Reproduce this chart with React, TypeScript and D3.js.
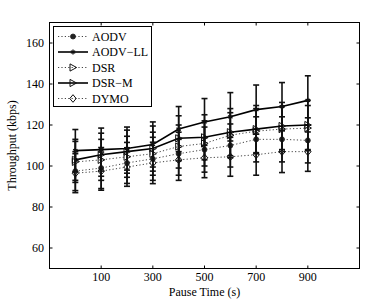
import * as d3 from "d3";

const pauseTimes = [0, 100, 200, 300, 400, 500, 600, 700, 800, 900];

const aodv = [97.5, 99, 101.5, 103.5, 106, 108, 110, 113, 113, 112.5];
const aodvErr = [9.5, 10, 10, 10.5, 10.5, 11, 10.5, 11, 11, 11];
const aodvLL = [107.5, 108, 108.5, 110.5, 118, 121.5, 124, 127.5, 129, 132];
const aodvLLErr = [10.3, 10.5, 10.5, 11, 11, 11.4, 11.8, 12, 11.7, 12];
const dsr = [102, 103, 104.5, 106, 109.5, 111, 115, 117, 118, 118.5];
const dsrErr = [10, 10, 10, 10.5, 10.5, 11, 11, 11, 11, 11];
const dsrM = [103, 105.5, 107, 108.5, 113.5, 114, 116.5, 118, 119.5, 120];
const dsrMErr = [10, 10.5, 10.5, 11, 11, 11, 11.5, 11.5, 11.5, 12];
const dymo = [96.5, 97.5, 99.5, 101.5, 103, 104, 104.5, 105.5, 107, 107];
const dymoErr = [9.5, 9.3, 9.4, 10.1, 10, 9.7, 9.5, 10, 10.2, 9.6];

const xTicks = [100, 300, 500, 700, 900];
const yTicks = [60, 80, 100, 120, 140, 160];

const seriesNames = ["AODV", "AODV\u2212LL", "DSR", "DSR\u2212M", "DYMO"];

const W = 382;
const H = 301;
const left = 49.5;
const right = 359.5;
const top = 22.5;
const bottom = 268.5;
const font = "'Liberation Serif', 'Times New Roman', 'DejaVu Serif', serif";

const series = [
  { name: seriesNames[0], values: aodv, err: aodvErr, dotted: true, marker: "circle" },
  { name: seriesNames[1], values: aodvLL, err: aodvLLErr, dotted: false, marker: "star" },
  { name: seriesNames[2], values: dsr, err: dsrErr, dotted: true, marker: "tri" },
  { name: seriesNames[3], values: dsrM, err: dsrMErr, dotted: false, marker: "tri" },
  { name: seriesNames[4], values: dymo, err: dymoErr, dotted: true, marker: "diamond" },
];

function Marker({ kind, x, y }: { kind: string; x: number; y: number }) {
  if (kind === "circle") {
    return <circle cx={x} cy={y} r={2.5} fill="#222" stroke="#222" strokeWidth={0.8} />;
  }
  if (kind === "star") {
    const p = d3.symbol().type(d3.symbolAsterisk).size(18)();
    return <path d={p || ""} transform={`translate(${x},${y})`} fill="none" stroke="#111" strokeWidth={1.3} />;
  }
  if (kind === "tri") {
    return (
      <path
        d="M-3,-3.6L3.6,0L-3,3.6Z"
        transform={`translate(${x},${y})`}
        fill="none"
        stroke="#111"
        strokeWidth={1}
      />
    );
  }
  return (
    <path
      d="M0,-3.8L3.2,0L0,3.8L-3.2,0Z"
      transform={`translate(${x},${y})`}
      fill="none"
      stroke="#111"
      strokeWidth={1}
    />
  );
}

export default function App() {
  const x = d3.scaleLinear().domain([-100, 1100]).range([left, right]);
  const y = d3.scaleLinear().domain([50, 170]).range([bottom, top]);

  const line = d3
    .line<number>()
    .x((_, i) => x(pauseTimes[i]))
    .y((d) => y(d));

  return (
    <svg
      width={W}
      height={H}
      style={{ position: "absolute", left: 0, top: 0, background: "#fff", fontFamily: font }}
    >
      <rect x={0} y={0} width={W} height={H} fill="#fff" />

      {series.map((s) => (
        <g key={s.name}>
          {s.values.map((v, i) => {
            const cx = x(pauseTimes[i]);
            const y1 = y(v + s.err[i]);
            const y2 = y(v - s.err[i]);
            return (
              <g key={i} stroke="#111" strokeWidth={1.6}>
                <line x1={cx} x2={cx} y1={y1} y2={y2} />
                <line x1={cx - 3} x2={cx + 3} y1={y1} y2={y1} />
                <line x1={cx - 3} x2={cx + 3} y1={y2} y2={y2} />
              </g>
            );
          })}
          <path
            d={line(s.values) || ""}
            fill="none"
            stroke={s.dotted ? "#444" : "#000"}
            strokeWidth={s.dotted ? 1 : 1.6}
            strokeDasharray={s.dotted ? "1.2,2.2" : undefined}
          />
          {s.values.map((v, i) => (
            <Marker key={i} kind={s.marker} x={x(pauseTimes[i])} y={y(v)} />
          ))}
        </g>
      ))}

      {/* axes box */}
      <rect x={left} y={top} width={right - left} height={bottom - top} fill="none" stroke="#000" strokeWidth={1} />
      {xTicks.map((t) => (
        <g key={t}>
          <line x1={x(t)} x2={x(t)} y1={bottom} y2={bottom - 3} stroke="#000" />
          <line x1={x(t)} x2={x(t)} y1={top} y2={top + 3} stroke="#000" />
          <text x={x(t)} y={281} textAnchor="middle" fontSize={12} style={{ fontFamily: font }}>
            {t}
          </text>
        </g>
      ))}
      {yTicks.map((t) => (
        <g key={t}>
          <line x1={left} x2={left + 3} y1={y(t)} y2={y(t)} stroke="#000" />
          <line x1={right} x2={right - 3} y1={y(t)} y2={y(t)} stroke="#000" />
          <text x={44} y={y(t) + 4} textAnchor="end" fontSize={12} style={{ fontFamily: font }}>
            {t}
          </text>
        </g>
      ))}
      <text x={(left + right) / 2} y={296} textAnchor="middle" fontSize={12} style={{ fontFamily: font }}>
        Pause Time (s)
      </text>
      <text
        transform={`translate(16,${(top + bottom) / 2}) rotate(-90)`}
        textAnchor="middle"
        fontSize={12}
        style={{ fontFamily: font }}
      >
        Throughput (kbps)
      </text>

      {/* legend */}
      <rect x={53.5} y={26.5} width={98} height={80} fill="#fff" stroke="#000" strokeWidth={1} />
      {series.map((s, i) => {
        const ly = 36.5 + i * 15.5;
        return (
          <g key={s.name}>
            <line
              x1={58}
              x2={88}
              y1={ly}
              y2={ly}
              stroke={s.dotted ? "#444" : "#000"}
              strokeWidth={s.dotted ? 1 : 1.6}
              strokeDasharray={s.dotted ? "1.2,2.2" : undefined}
            />
            <Marker kind={s.marker} x={73} y={ly} />
            <text x={92} y={ly + 4} fontSize={12} style={{ fontFamily: font }}>
              {s.name}
            </text>
          </g>
        );
      })}
    </svg>
  );
}
